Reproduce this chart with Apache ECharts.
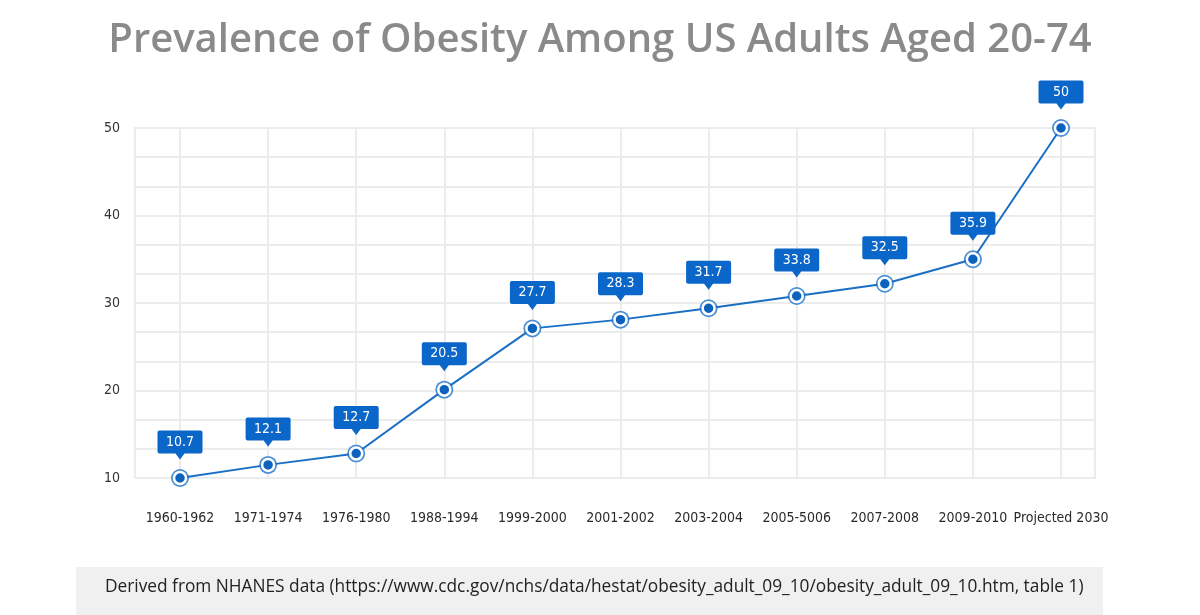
<!DOCTYPE html>
<html>
<head>
<meta charset="utf-8">
<script src="https://cdn.jsdelivr.net/npm/echarts@6/dist/echarts.min.js"></script>
<style>
html,body{margin:0;padding:0;background:#fff;}
#c{width:1200px;height:615px;}
</style>
</head>
<body>
<div id="c"></div>
<script>
const categories = ['1960-1962','1971-1974','1976-1980','1988-1994','1999-2000','2001-2002','2003-2004','2005-5006','2007-2008','2009-2010','Projected 2030'];
// plotted point heights as drawn in the picture
const plotted = [10.0, 11.5, 12.8, 20.1, 27.1, 28.1, 29.4, 30.8, 32.2, 35.0, 50.0];
// values printed in the callouts
const labels = ['10.7','12.1','12.7','20.5','27.7','28.3','31.7','33.8','32.5','35.9','50'];
const yTicks = [10, 20, 30, 40, 50];

const title = 'Prevalence of Obesity Among US Adults Aged 20-74';
const source = 'Derived from NHANES data (https://www.cdc.gov/nchs/data/hestat/obesity_adult_09_10/obesity_adult_09_10.htm, table 1)';

const chart = echarts.init(document.getElementById('c'), null, {renderer: 'canvas'});
const gridColor = '#ececec';
const blue = '#1a6fc4';
const narrow = '"DejaVu Sans Condensed", sans-serif';
const calloutPath = 'path://M2,0 H43 Q45,0 45,2 V21 Q45,23 43,23 H27 L22.5,29 L18,23 H2 Q0,23 0,21 V2 Q0,0 2,0 Z';

chart.setOption({
  animation: false,
  backgroundColor: '#fff',
  title: [{
    text: title,
    left: 'center',
    top: 16,
    textStyle: {fontFamily: 'Open Sans', fontWeight: 600, fontSize: 40, color: '#8a8a8a'}
  }, {
    text: source,
    left: 100,
    top: 574,
    textStyle: {fontFamily: 'Open Sans', fontWeight: 'normal', fontSize: 17.3, color: '#222'}
  }],
  graphic: [{
    type: 'rect',
    z: -10,
    shape: {x: 76, y: 567, width: 1027, height: 60},
    style: {fill: '#f0f0f0'}
  }],
  grid: [
    {left: 180, right: 139, top: 128, bottom: 137},
    {left: 135, right: 105, top: 128, bottom: 137, show: true, borderColor: gridColor, borderWidth: 2, z: 0}
  ],
  xAxis: [{
    type: 'category',
    gridIndex: 0,
    data: categories,
    boundaryGap: false,
    axisLine: {show: false},
    axisTick: {show: false},
    axisLabel: {margin: 33, color: '#2a2a2a', fontFamily: narrow, fontSize: 14, interval: 0},
    splitLine: {show: true, lineStyle: {color: gridColor, width: 2}}
  }, {
    type: 'value', gridIndex: 1, min: 0, max: 1, show: false
  }],
  yAxis: [{
    type: 'value', gridIndex: 0, min: yTicks[0], max: yTicks[yTicks.length - 1], show: false
  }, {
    type: 'value',
    gridIndex: 1,
    min: yTicks[0],
    max: yTicks[yTicks.length - 1],
    interval: yTicks[1] - yTicks[0],
    axisLine: {show: false},
    axisTick: {show: false},
    axisLabel: {margin: 15, color: '#333', fontFamily: narrow, fontSize: 14},
    splitLine: {show: true, lineStyle: {color: gridColor, width: 2}},
    minorTick: {show: false, splitNumber: 3},
    minorSplitLine: {show: true, lineStyle: {color: gridColor, width: 2}}
  }],
  series: [{
    type: 'scatter',
    xAxisIndex: 0, yAxisIndex: 0,
    data: plotted,
    symbol: 'circle',
    symbolSize: 18,
    itemStyle: {color: '#4a8fd4', opacity: 1},
    z: 2,
    silent: true
  }, {
    type: 'line',
    xAxisIndex: 0, yAxisIndex: 0,
    data: plotted,
    symbol: 'circle',
    symbolSize: 12,
    showAllSymbol: true,
    lineStyle: {color: blue, width: 2},
    itemStyle: {color: '#0c62bd', borderColor: '#fff', borderWidth: 2.5},
    z: 3,
    markPoint: {
      symbol: calloutPath,
      symbolSize: [45, 29],
      symbolOffset: [0, -33],
      symbolKeepAspect: false,
      itemStyle: {color: '#0a66c8'},
      label: {
        show: true,
        color: '#fff',
        fontFamily: narrow,
        fontSize: 14,
        offset: [0, -3],
        formatter: p => p.data.txt
      },
      data: plotted.map((v, i) => ({coord: [i, v], txt: labels[i]}))
    }
  }]
});
</script>
</body>
</html>
